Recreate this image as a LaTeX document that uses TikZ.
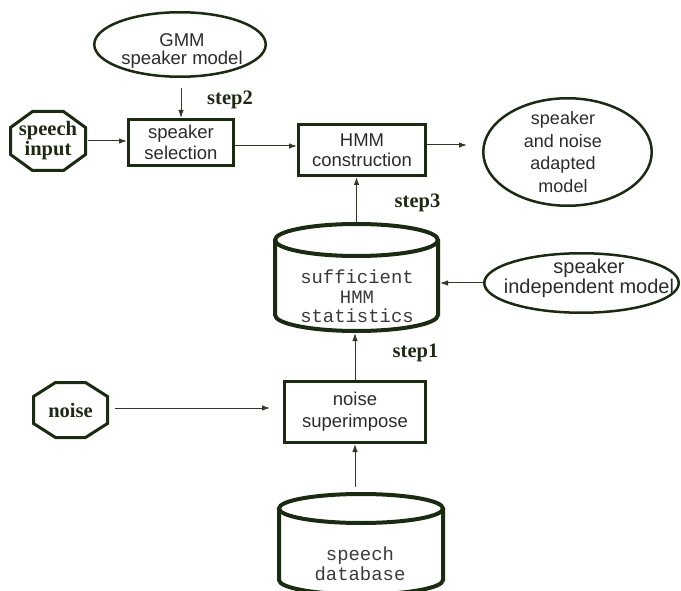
\documentclass[tikz,border=0pt]{standalone}
\usepackage{fontspec}
\setmainfont{Liberation Serif}
\setsansfont{Liberation Sans}
\setmonofont{Liberation Mono}
\usetikzlibrary{shapes.geometric,arrows.meta,calc}

\definecolor{edge}{HTML}{1B2B12}
\definecolor{wire}{HTML}{2E3A24}
\definecolor{ink}{HTML}{2B2B2B}
\definecolor{monoink}{HTML}{3A3A3A}
\definecolor{serifink}{HTML}{1E2A14}

% octagon outline drawn on the border of a (borderless) node:
% #1 node name, #2 horizontal chamfer, #3 vertical chamfer
\newcommand\octpath[3]{%
  \draw[octline] ([xshift=#2]#1.north west) -- ([xshift=-#2]#1.north east)
    -- ([yshift=-#3]#1.north east) -- ([yshift=#3]#1.south east)
    -- ([xshift=-#2]#1.south east) -- ([xshift=#2]#1.south west)
    -- ([yshift=#3]#1.south west) -- ([yshift=-#3]#1.north west) -- cycle;}

\tikzset{
  every node/.style={inner sep=0pt},
  sanslabel/.style={font=\sffamily\fontsize{18.5}{21}\selectfont, text=ink, align=center},
  monolabel/.style={font=\ttfamily\fontsize{18.9}{19.5}\selectfont, text=monoink, align=center},
  seriflabel/.style={font=\bfseries\fontsize{20.5}{20}\selectfont, text=serifink, align=center},
  procbox/.style={draw=edge, line width=3pt, rectangle, sanslabel},
  oval/.style={draw=edge, line width=2.5pt, ellipse},
  hull/.style={draw=none, rectangle, outer sep=0pt},
  octline/.style={draw=edge, line width=3pt, line join=miter},
  drum/.style={draw=edge, line width=4pt},
  flow/.style={draw=wire, line width=1pt, -{Latex[length=8pt,width=5.5pt]}},
}

\begin{document}
\begin{tikzpicture}[x=1pt,y=1pt]
\useasboundingbox (0,0) rectangle (681,-591);
\clip (0,0) rectangle (681,-591);

% process boxes
\node[procbox, minimum width=105pt, minimum height=46pt] (spksel) at (181,-142.5) {speaker\\selection};
\node[procbox, minimum width=127pt, minimum height=51pt, font=\sffamily\fontsize{18.5}{20}\selectfont] (hmm) at (362,-150) {HMM\\construction};
\node[procbox, minimum width=141pt, minimum height=61pt, font=\sffamily\fontsize{18.5}{22}\selectfont] (nsup) at (355,-412) {noise\\superimpose};

% models
\node[oval, minimum width=171.5pt, minimum height=64.5pt] (gmm) at (180,-44.5) {};
\node[sanslabel, font=\sffamily\fontsize{18.5}{18}\selectfont] (gmmtext) at (182,-51) {GMM\\speaker model};
\node[oval, minimum width=168.5pt, minimum height=107.5pt] (out) at (567.5,-152) {};
\node[sanslabel, font=\sffamily\fontsize{18}{22.5}\selectfont] (outtext) at (563,-152) {speaker\\and noise\\adapted\\model};
\node[oval, minimum width=194.5pt, minimum height=59.5pt] (si) at (581.5,-283) {};
\node[sanslabel, font=\sffamily\fontsize{20}{20}\selectfont] (sitext) at (589,-278) {speaker\\independent model};

% sources
\node[hull, seriflabel, minimum width=75pt, minimum height=59pt] (speech) at (48,-141) {speech\\input};
\octpath{speech}{22pt}{16pt}
\node[hull, seriflabel, minimum width=74pt, minimum height=55pt] (noise) at (70.5,-410) {noise};
\octpath{noise}{22pt}{14pt}

% statistics store
\node[hull, minimum width=167pt, minimum height=111pt] (stats) at (356.5,-277.5) {};
\draw[drum] (275,-240) -- (275,-315) arc[start angle=180, end angle=360, x radius=81.5, y radius=16] -- (438,-240);
\draw[drum] (356.5,-240) ellipse[x radius=81.5, y radius=16];
\node[monolabel] (statstext) at (357,-296.5) {sufficient\\HMM\\statistics};

% speech database
\node[hull, minimum width=168pt, minimum height=105pt] (db) at (361,-544.5) {};
\draw[drum] (279,-508.5) -- (279,-580) arc[start angle=180, end angle=360, x radius=82, y radius=14.5] -- (443,-508.5);
\draw[drum] (361,-508.5) ellipse[x radius=82, y radius=14.5];
\node[monolabel, font=\ttfamily\fontsize{18.9}{20}\selectfont] (dbtext) at (360,-563.5) {speech\\database};

% step labels
\node[seriflabel] (steptwo) at (230,-100) {step2};
\node[seriflabel] (stepthree) at (417.5,-203) {step3};
\node[seriflabel] (stepone) at (415.5,-353) {step1};

% connectors
\draw[flow] ([xshift=2pt]speech.east) -- (spksel.west |- speech.east);
\draw[flow, shorten <=10pt] (spksel.north |- gmm.south) -- (spksel.north);
\draw[flow] ([yshift=-3.5pt]spksel.east) -- ([yshift=-3.5pt]spksel.east -| hmm.west);
\draw[flow, shorten >=15pt] ([yshift=5pt]hmm.east) -- ([yshift=5pt]hmm.east -| out.west);
\draw[flow] (stats.north) -- (stats.north |- hmm.south);
\draw[flow] (si.west) -- (si.west -| stats.east);
\draw[flow] (nsup.north) -- (nsup.north |- stats.south);
\draw[flow, shorten <=7pt, shorten >=13pt] ([yshift=2pt]noise.east) -- ([yshift=2pt]noise.east -| nsup.west);
\draw[flow, shorten <=5pt] (nsup.south |- db.north) -- (nsup.south);
\end{tikzpicture}
\end{document}
